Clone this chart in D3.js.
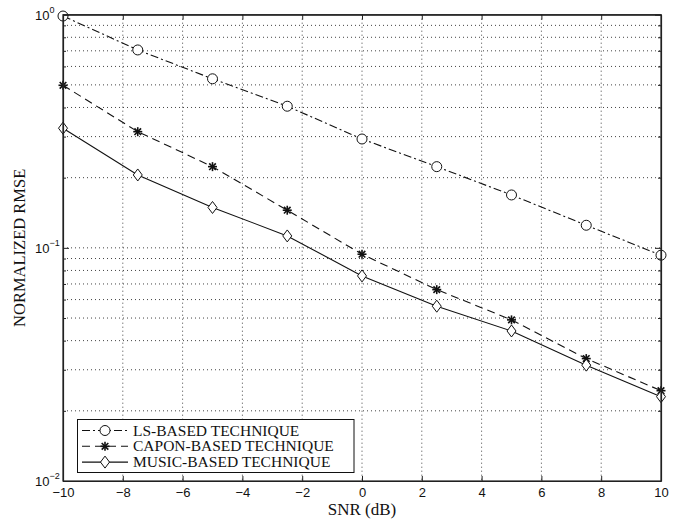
<!DOCTYPE html>
<html>
<head>
<meta charset="utf-8">
<script src="https://cdn.jsdelivr.net/npm/d3@7"></script>
<style>
  body { margin: 0; background: #fff; }
  svg { display: block; }
  .tick text { font-family: "Liberation Sans", Arial, sans-serif; font-size: 13px; fill: #111; }
  .lbl { font-family: "Liberation Serif", "Times New Roman", serif; font-size: 15.5px; fill: #111; }
</style>
</head>
<body>
<svg id="chart" width="685" height="520"></svg>
<script>
// data
var snr = [-10, -7.5, -5, -2.5, 0, 2.5, 5, 7.5, 10];
var lsRmse = [0.987, 0.706, 0.531, 0.405, 0.293, 0.223, 0.1686, 0.125, 0.093];
var caponRmse = [0.498, 0.315, 0.223, 0.145, 0.0939, 0.0662, 0.0491, 0.0335, 0.0244];
var musicRmse = [0.326, 0.2054, 0.149, 0.1125, 0.0758, 0.0562, 0.044, 0.0314, 0.023];
var seriesNames = ["LS-BASED TECHNIQUE", "CAPON-BASED TECHNIQUE", "MUSIC-BASED TECHNIQUE"];
var xTicks = [-10, -8, -6, -4, -2, 0, 2, 4, 6, 8, 10];
var yMajor = [0.01, 0.1, 1];

var svg = d3.select("#chart");
var pLeft = 63, pRight = 661, pTop = 14.7, pBottom = 481;

var x = d3.scaleLinear().domain([-10, 10]).range([pLeft, pRight]);
var y = d3.scaleLog().domain([0.01, 1]).range([pBottom, pTop]);

// minor log positions for grid
var yMinor = [];
[0.01, 0.1].forEach(function(dec) {
  for (var k = 1; k <= 9; k++) yMinor.push(dec * k);
});
yMinor.push(1);

var g = svg.append("g");

// grid
g.selectAll(".hgrid").data(yMinor.filter(function(v) { return v > 0.011 && v < 0.99; }))
  .enter().append("line")
    .attr("x1", pLeft).attr("x2", pRight)
    .attr("y1", function(d) { return y(d); })
    .attr("y2", function(d) { return y(d); })
    .attr("stroke", "#444")
    .attr("stroke-width", 1)
    .attr("stroke-dasharray", "1,3");

g.selectAll(".vgrid").data(xTicks.slice(1, -1))
  .enter().append("line")
    .attr("y1", pTop).attr("y2", pBottom)
    .attr("x1", function(d) { return x(d); })
    .attr("x2", function(d) { return x(d); })
    .attr("stroke", "#444")
    .attr("stroke-width", 1)
    .attr("stroke-dasharray", "1,3");

// axes (ticks inward, box on)
var xAxisB = d3.axisBottom(x).tickValues(xTicks).tickSizeInner(-5).tickSizeOuter(0).tickPadding(7)
  .tickFormat(function(d) { return d < 0 ? "\u2212" + Math.abs(d) : d; });
svg.append("g").attr("transform", "translate(0," + pBottom + ")").call(xAxisB);

var xAxisT = d3.axisTop(x).tickValues(xTicks).tickSizeInner(-5).tickSizeOuter(0).tickFormat("");
svg.append("g").attr("transform", "translate(0," + pTop + ")").call(xAxisT);

var yAxisL = d3.axisLeft(y).tickValues(yMinor).tickSizeOuter(0).tickFormat("")
  .tickSizeInner(-3);
var yl = svg.append("g").attr("transform", "translate(" + pLeft + ",0)").call(yAxisL);
yl.selectAll(".tick line").attr("x2", function(d) { return yMajor.indexOf(d) >= 0 ? 6 : 3; });

var yAxisR = d3.axisRight(y).tickValues(yMinor).tickSizeOuter(0).tickFormat("")
  .tickSizeInner(-3);
var yr = svg.append("g").attr("transform", "translate(" + pRight + ",0)").call(yAxisR);
yr.selectAll(".tick line").attr("x2", function(d) { return yMajor.indexOf(d) >= 0 ? -6 : -3; });

svg.selectAll(".domain").attr("stroke", "#222").attr("stroke-width", 1.2);
svg.selectAll(".tick line").attr("stroke", "#222");
svg.append("rect").attr("x", pLeft).attr("y", pTop).attr("width", pRight - pLeft).attr("height", pBottom - pTop)
  .attr("fill", "none").attr("stroke", "#222").attr("stroke-width", 1.2);

// y tick labels as 10^n
var ylab = svg.append("g").selectAll("text").data(yMajor).enter().append("text")
  .attr("x", 35)
  .attr("y", function(d) { return y(d) + 5; })
  .style("font-family", "Liberation Sans, Arial, sans-serif")
  .style("font-size", "13px")
  .attr("fill", "#111");
ylab.append("tspan").text("10");
ylab.append("tspan").attr("dy", -7).style("font-size", "9px")
  .text(function(d) { var e = Math.round(Math.log10(d)); return e < 0 ? "\u2212" + Math.abs(e) : e; });

// axis titles
svg.append("text").attr("class", "lbl")
  .attr("x", x(0)).attr("y", 515)
  .attr("text-anchor", "middle")
  .style("font-size", "17px")
  .text("SNR (dB)");
svg.append("text").attr("class", "lbl")
  .attr("transform", "translate(25," + ((pTop + pBottom) / 2) + ") rotate(-90)")
  .attr("text-anchor", "middle")
  .style("font-size", "16.5px")
  .text("NORMALIZED RMSE");

// series
var series = [
  { name: seriesNames[0], values: lsRmse, dash: "8,3,2,3", marker: "circle" },
  { name: seriesNames[1], values: caponRmse, dash: "8,5", marker: "star" },
  { name: seriesNames[2], values: musicRmse, dash: null, marker: "diamond" }
];

var line = d3.line()
  .x(function(d) { return x(d[0]); })
  .y(function(d) { return y(d[1]); });

function drawMarker(sel, type, cx, cy) {
  if (type == "circle") {
    sel.append("circle").attr("cx", cx).attr("cy", cy).attr("r", 5)
      .attr("fill", "#fff").attr("stroke", "#111").attr("stroke-width", 1);
  } else if (type == "diamond") {
    var s = 6;
    sel.append("polygon")
      .attr("points", [[cx, cy - s], [cx + 4.5, cy], [cx, cy + s], [cx - 4.5, cy]].map(function(p) { return p.join(","); }).join(" "))
      .attr("fill", "#fff").attr("stroke", "#111").attr("stroke-width", 1);
  } else {
    var r = 4.5, r2 = 3.3;
    [[r, 0], [0, r], [r2, r2], [r2, -r2]].forEach(function(p) {
      sel.append("line").attr("x1", cx - p[0]).attr("y1", cy - p[1]).attr("x2", cx + p[0]).attr("y2", cy + p[1])
        .attr("stroke", "#111").attr("stroke-width", 1.6);
    });
  }
}

series.forEach(function(s) {
  var pts = snr.map(function(v, i) { return [v, s.values[i]]; });
  g.append("path")
    .datum(pts)
    .attr("d", line)
    .attr("fill", "none")
    .attr("stroke", "#111")
    .attr("stroke-width", 1.1)
    .attr("stroke-dasharray", s.dash);
  var mg = g.append("g");
  pts.forEach(function(p) { drawMarker(mg, s.marker, x(p[0]), y(p[1])); });
});

// legend
var lg = svg.append("g");
lg.append("rect").attr("x", 77.5).attr("y", 419.5).attr("width", 276.5).attr("height", 53)
  .attr("fill", "#fff").attr("stroke", "#111").attr("stroke-width", 1);
series.forEach(function(s, i) {
  var ly = 430.5 + i * 15.8;
  lg.append("line").attr("x1", 82).attr("x2", 128).attr("y1", ly).attr("y2", ly)
    .attr("stroke", "#111").attr("stroke-width", 1.1).attr("stroke-dasharray", s.dash);
  drawMarker(lg, s.marker, 105, ly);
  lg.append("text").attr("class", "lbl").attr("x", 133).attr("y", ly + 5).text(s.name);
});
</script>
</body>
</html>
